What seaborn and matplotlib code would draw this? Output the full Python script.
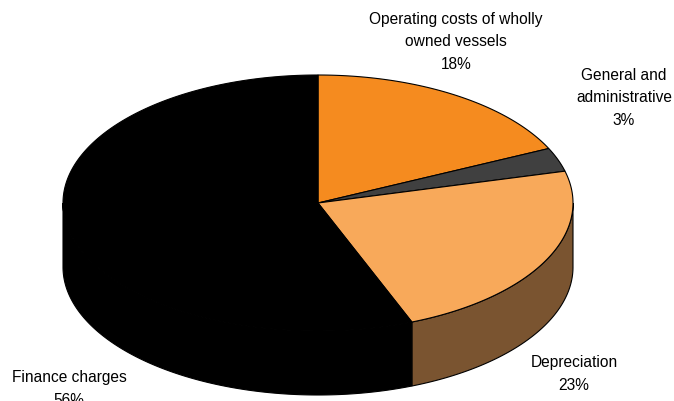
import numpy as np
import matplotlib
matplotlib.use("Agg")
import matplotlib.pyplot as plt
import seaborn as sns
from matplotlib.patches import Polygon

categories = ["Operating costs of wholly\nowned vessels", "General and\nadministrative",
              "Depreciation", "Finance charges"]
values = [18, 3, 23, 56]
top_colors = ["#F58B1F", "#404040", "#F8A95A", "#000000"]
side_colors = ["#A65E15", "#2A2A2A", "#7A5430", "#000000"]
label_pos = [(456, 42), (624, 98), (574, 374), (69, 389)]

sns.set_theme(style="white")
plt.rcParams['font.family'] = ['Liberation Sans', 'DejaVu Sans']

W, H = 674, 401
fig = plt.figure(figsize=(W / 100, H / 100), dpi=100)
ax = fig.add_axes([0, 0, 1, 1])
ax.set_xlim(0, W)
ax.set_ylim(H, 0)
ax.axis("off")

cx, cy, a, b, depth = 318, 203, 255, 128, 64
fr = np.array(values, dtype=float) / sum(values)
bounds = np.concatenate([[0], np.cumsum(fr)]) * 2 * np.pi


def pt(t, dy=0.0):
    return cx + a * np.sin(t), cy - b * np.cos(t) + dy


# side walls (front half: pi/2 .. 3pi/2)
for i in range(len(values)):
    s, e = max(bounds[i], np.pi / 2), min(bounds[i + 1], 3 * np.pi / 2)
    if e <= s:
        continue
    t = np.linspace(s, e, 200)
    xs, ys = pt(t)
    xb, yb = pt(t[::-1], depth)
    poly = np.column_stack([np.concatenate([xs, xb]), np.concatenate([ys, yb])])
    ax.add_patch(Polygon(poly, closed=True, facecolor=side_colors[i],
                         edgecolor="black", linewidth=0.8, zorder=1))

# top faces
for i in range(len(values)):
    t = np.linspace(bounds[i], bounds[i + 1], 300)
    xs, ys = pt(t)
    poly = np.column_stack([np.concatenate([[cx], xs]), np.concatenate([[cy], ys])])
    ax.add_patch(Polygon(poly, closed=True, facecolor=top_colors[i],
                         edgecolor="black", linewidth=0.8, zorder=2))

for cat, v, (lx, ly) in zip(categories, values, label_pos):
    ax.text(lx, ly, f"{cat}\n{v}%", ha="center", va="center", fontsize=11.2,
            color="black", linespacing=1.6, zorder=3)

fig.savefig("out.png", dpi=100)
